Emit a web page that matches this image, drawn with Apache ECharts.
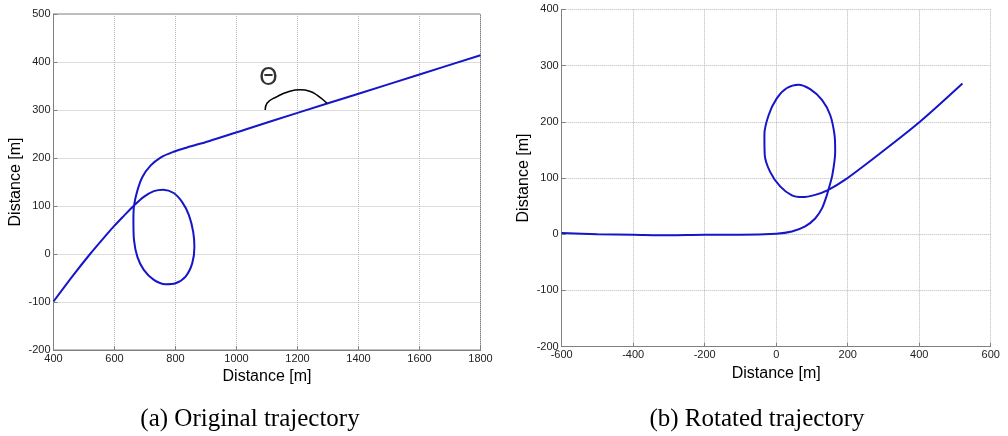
<!DOCTYPE html>
<html>
<head>
<meta charset="utf-8">
<script src="https://cdn.jsdelivr.net/npm/echarts@6/dist/echarts.min.js"></script>
<style>
  html, body { margin: 0; padding: 0; background: #fff; }
  #chart { width: 1008px; height: 436px; }
</style>
</head>
<body>
<div id="chart"></div>
<script>
// (a) original trajectory
var origX = [400, 465, 520, 560, 600, 630, 664, 696, 729, 760, 794, 822, 844, 858, 862, 855, 833, 800, 767, 729, 696, 675, 664, 662, 664, 675, 691, 718, 751, 794, 838, 909, 1032, 1200, 1400, 1600, 1800];
var origY = [-99, -44, 0, 30, 59, 79, 101, 119, 131, 134, 127, 108, 81, 46, 15, -19, -47, -61, -63, -54, -33, -6, 29, 70, 101, 132, 160, 184, 201, 213, 222, 235, 260, 294, 334, 374, 414];
// theta arc annotation
var arcX = [1094, 1100, 1133, 1170, 1209, 1240, 1264, 1297];
var arcY = [300, 314, 328, 338, 342, 339, 331, 314];
var thetaPos = [1105, 365];

// (b) rotated trajectory
var rotX = [-600, -500, -400, -300, -200, -100, 0, 44, 81, 109, 128, 142, 146, 157, 165, 163, 151, 128, 95, 62, 30, 2, -21, -33, -32, -17, 11, 44, 72, 109, 146, 193, 291, 402, 521];
var rotY = [2, 0, -1, -2, -1, -1, 1, 5, 14, 28, 46, 70, 79, 105, 147, 177, 212, 239, 258, 266, 260, 242, 212, 177, 141, 111, 85, 69, 66, 70, 79, 97, 144, 200, 268];

var xTicksA = [400, 1800, 200];
var yTicksA = [-200, 500, 100];
var xTicksB = [-600, 600, 200];
var yTicksB = [-200, 400, 100];

function pairs(xs, ys) {
    return xs.map(function (x, i) { return [x, ys[i]]; });
}

var tickFont = { fontFamily: 'Liberation Sans', fontSize: 11, color: '#222' };
var nameFont = { fontFamily: 'Liberation Sans', fontSize: 16, color: '#000' };
var lineCol = '#808080';
var gridCol = '#b8b8b8';

function plain(v) { return String(v); }

function xAxis(idx, t) {
    return {
        type: 'value', gridIndex: idx, min: t[0], max: t[1], interval: t[2],
        name: 'Distance [m]', nameLocation: 'middle', nameGap: 18, nameTextStyle: nameFont,
        axisLine: { onZero: false, lineStyle: { color: lineCol } },
        axisTick: { inside: true, length: 4, lineStyle: { color: lineCol } },
        axisLabel: Object.assign({ margin: 3, formatter: plain }, tickFont),
        splitLine: { show: true, lineStyle: { color: gridCol, type: 'dotted' } }
    };
}
function yAxis(idx, t) {
    return {
        type: 'value', gridIndex: idx, min: t[0], max: t[1], interval: t[2],
        name: 'Distance [m]', nameLocation: 'middle', nameGap: 30, nameTextStyle: nameFont,
        axisLine: { show: true, onZero: false, lineStyle: { color: lineCol } },
        axisTick: { show: true, inside: true, length: 4, lineStyle: { color: lineCol } },
        axisLabel: Object.assign({ margin: 3, formatter: plain }, tickFont),
        splitLine: { show: true, lineStyle: { color: gridCol, type: 'dotted' } }
    };
}

var chart = echarts.init(document.getElementById('chart'));
chart.setOption({
    animation: false,
    backgroundColor: '#fff',
    grid: [
        { left: 53.5, top: 14, width: 427, height: 336, show: true, borderColor: lineCol, borderWidth: 1 },
        { left: 561.7, top: 9.3, width: 429, height: 337.4 }
    ],
    xAxis: [xAxis(0, xTicksA), xAxis(1, xTicksB)],
    yAxis: [yAxis(0, yTicksA), yAxis(1, yTicksB)],
    graphic: [
        { type: 'text', x: 250, y: 419, style: { text: '(a) Original trajectory', font: '25px "Liberation Serif"', fill: '#000', align: 'center', verticalAlign: 'middle' } },
        { type: 'text', x: 757, y: 419, style: { text: '(b) Rotated trajectory', font: '25px "Liberation Serif"', fill: '#000', align: 'center', verticalAlign: 'middle' } }
    ],
    series: [
        {
            type: 'line', xAxisIndex: 0, yAxisIndex: 0, data: pairs(origX, origY),
            showSymbol: false, smooth: 0.3, lineStyle: { color: '#1616c8', width: 2 }
        },
        {
            type: 'line', xAxisIndex: 0, yAxisIndex: 0, data: pairs(arcX, arcY),
            showSymbol: false, smooth: 0.5, lineStyle: { color: '#000', width: 1.5 }
        },
        {
            type: 'scatter', xAxisIndex: 0, yAxisIndex: 0, data: [thetaPos], symbolSize: 0,
            label: { show: true, position: 'inside', formatter: 'Θ', fontFamily: 'DejaVu Sans', fontSize: 24, color: '#000' }
        },
        {
            type: 'line', xAxisIndex: 1, yAxisIndex: 1, data: pairs(rotX, rotY),
            showSymbol: false, smooth: 0.3, lineStyle: { color: '#1616c8', width: 2 }
        }
    ]
});
</script>
</body>
</html>
